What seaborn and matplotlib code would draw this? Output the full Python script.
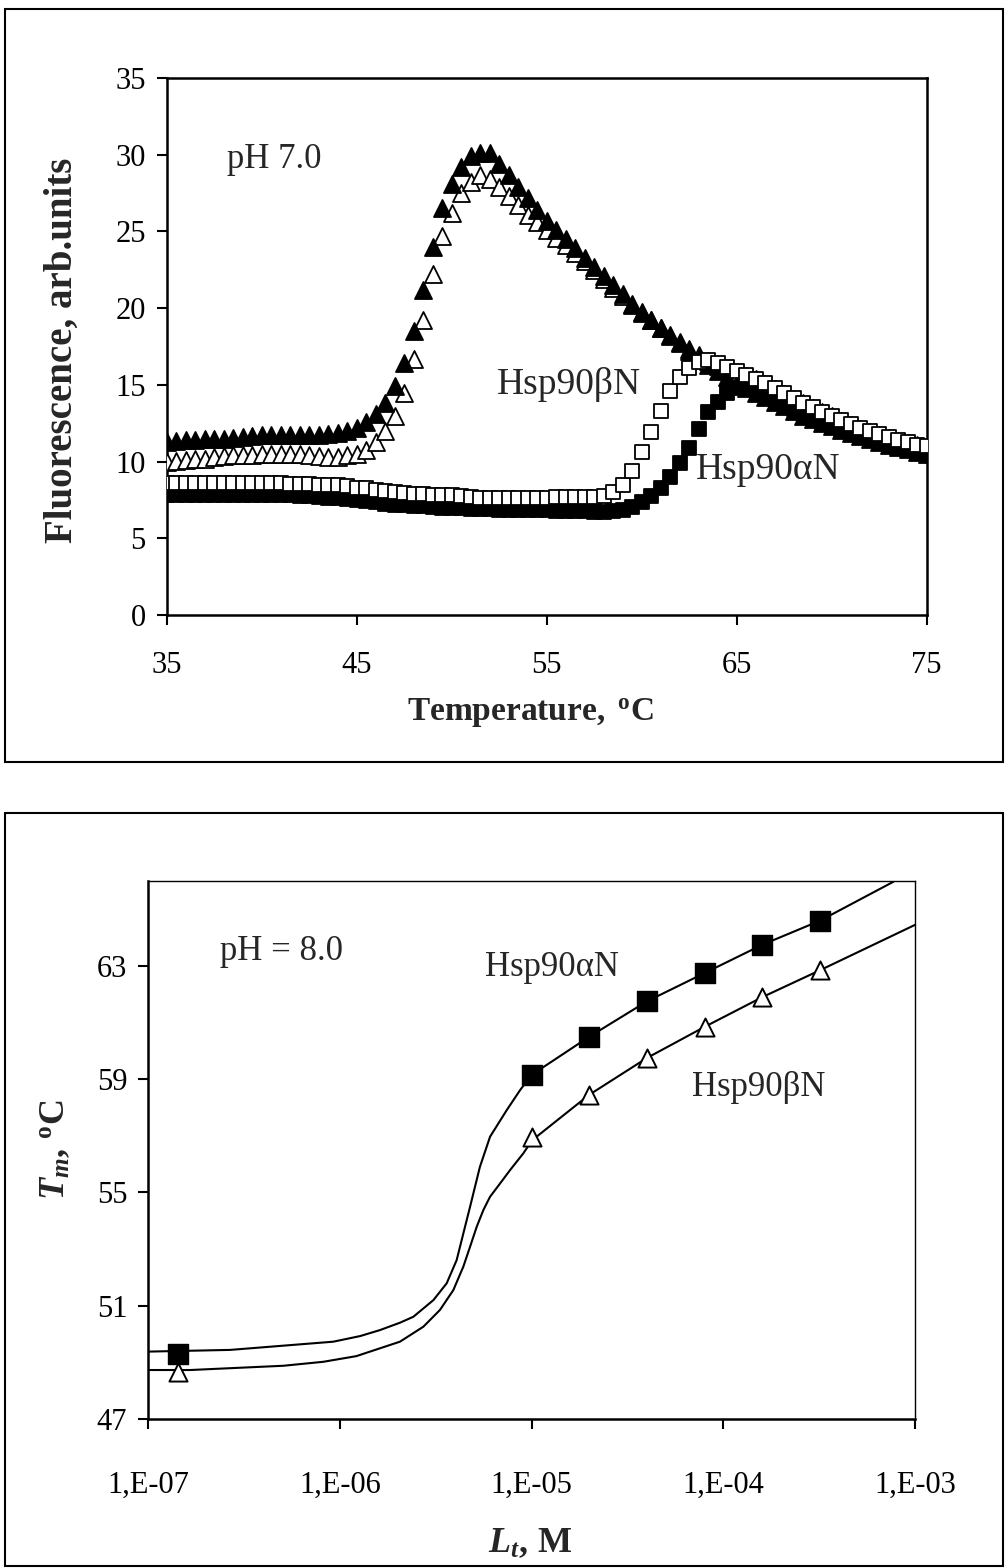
import numpy as np
import pandas as pd
import matplotlib
matplotlib.use("Agg")
import matplotlib.pyplot as plt
import seaborn as sns
from matplotlib.patches import Rectangle
from matplotlib.ticker import FixedLocator, NullLocator, FixedFormatter

# ---------------- data: top panel (fluorescence vs temperature, pH 7.0) ----------------
temperature = [35.0, 35.5, 36.0, 36.5, 37.0, 37.5, 38.0, 38.5, 39.0, 39.5,
               40.0, 40.5, 41.0, 41.5, 42.0, 42.5, 43.0, 43.5, 44.0, 44.5,
               45.0, 45.5, 46.0, 46.5, 47.0, 47.5, 48.0, 48.5, 49.0, 49.5,
               50.0, 50.5, 51.0, 51.5, 52.0, 52.5, 53.0, 53.5, 54.0, 54.5,
               55.0, 55.5, 56.0, 56.5, 57.0, 57.5, 58.0, 58.5, 59.0, 59.5,
               60.0, 60.5, 61.0, 61.5, 62.0, 62.5, 63.0, 63.5, 64.0, 64.5,
               65.0, 65.5, 66.0, 66.5, 67.0, 67.5, 68.0, 68.5, 69.0, 69.5,
               70.0, 70.5, 71.0, 71.5, 72.0, 72.5, 73.0, 73.5, 74.0, 74.5,
               75.0]

filled_triangles = [11.3, 11.35, 11.4, 11.4, 11.45, 11.5, 11.5, 11.55, 11.6, 11.65,
                    11.7, 11.7, 11.7, 11.75, 11.75, 11.75, 11.75, 11.8, 11.85, 12.0,
                    12.2, 12.6, 13.1, 13.8, 14.9, 16.4, 18.5, 21.2, 24.0, 26.5,
                    28.1, 29.2, 29.9, 30.1, 30.1, 29.4, 28.7, 27.9, 27.2, 26.4,
                    25.7, 25.1, 24.5, 23.9, 23.3, 22.7, 22.1, 21.5, 20.9, 20.3,
                    19.75, 19.2, 18.7, 18.2, 17.7, 17.2, 16.75, 16.3, 15.9, 15.5,
                    15.1, 14.8, 14.5, 14.2, 13.9, 13.6, 13.3, 13.0, 12.75, 12.5,
                    12.3, 12.05, 11.85, 11.65, 11.45, 11.25, 11.1, 10.95, 10.8, 10.65,
                    10.5]

open_triangles = [10.0, 10.05, 10.1, 10.15, 10.2, 10.3, 10.35, 10.4, 10.45, 10.45,
                  10.5, 10.5, 10.5, 10.5, 10.5, 10.45, 10.35, 10.3, 10.3, 10.4,
                  10.5, 10.75, 11.3, 12.0, 13.0, 14.5, 16.7, 19.2, 22.2, 24.7,
                  26.2, 27.5, 28.2, 28.7, 28.4, 27.9, 27.3, 26.7, 26.1, 25.6,
                  25.1, 24.6, 24.1, 23.6, 23.1, 22.5, 21.9, 21.3, 20.8, 20.2,
                  19.7, 19.2, 18.7, 18.25, 17.8, 17.35, 16.95, 16.55, 16.2, 16.0,
                  15.8, 15.6, 15.35, 15.05, 14.75, 14.4, 14.1, 13.8, 13.5, 13.2,
                  12.95, 12.65, 12.4, 12.15, 11.95, 11.75, 11.55, 11.35, 11.2, 11.05,
                  10.95]

open_squares = [8.6, 8.6, 8.6, 8.6, 8.6, 8.6, 8.6, 8.6, 8.6, 8.6,
                8.6, 8.6, 8.6, 8.55, 8.55, 8.55, 8.5, 8.45, 8.45, 8.4,
                8.3, 8.25, 8.15, 8.1, 8.0, 7.95, 7.9, 7.9, 7.85, 7.8,
                7.8, 7.75, 7.7, 7.65, 7.65, 7.65, 7.65, 7.65, 7.65, 7.65,
                7.65, 7.7, 7.7, 7.7, 7.7, 7.7, 7.75, 8.0, 8.5, 9.4,
                10.6, 11.9, 13.3, 14.6, 15.5, 16.1, 16.5, 16.6, 16.4, 16.15,
                15.9, 15.65, 15.4, 15.1, 14.8, 14.45, 14.15, 13.85, 13.55, 13.25,
                12.95, 12.7, 12.45, 12.2, 12.0, 11.8, 11.6, 11.4, 11.25, 11.1,
                11.0]

filled_squares = [7.8, 7.8, 7.8, 7.8, 7.8, 7.8, 7.8, 7.8, 7.8, 7.8,
                  7.8, 7.8, 7.8, 7.8, 7.75, 7.75, 7.7, 7.65, 7.6, 7.55,
                  7.5, 7.45, 7.35, 7.25, 7.2, 7.15, 7.1, 7.1, 7.05, 7.0,
                  7.0, 6.95, 6.9, 6.9, 6.9, 6.85, 6.85, 6.85, 6.85, 6.85,
                  6.85, 6.8, 6.8, 6.8, 6.75, 6.7, 6.7, 6.75, 6.85, 7.05,
                  7.35, 7.75, 8.3, 9.0, 9.9, 10.9, 12.1, 13.2, 13.9, 14.45,
                  14.8, 14.9, 14.75, 14.45, 14.15, 13.8, 13.45, 13.15, 12.85, 12.6,
                  12.35, 12.1, 11.9, 11.7, 11.5, 11.3, 11.1, 10.95, 10.75, 10.55,
                  10.4]

# ---------------- data: bottom panel (Tm vs ligand concentration, pH 8.0) ----------------
conc_points = [1.43e-7, 1e-5, 2e-5, 4e-5, 8e-5, 1.6e-4, 3.2e-4]
tm_alpha_points = [49.3, 59.15, 60.5, 61.75, 62.75, 63.75, 64.6]
tm_beta_points = [48.65, 56.95, 58.45, 59.75, 60.85, 61.9, 62.85]

alpha_fit_conc = [1.0e-7, 2.68e-7, 9.25e-7, 1.28e-6, 1.62e-6, 2.06e-6, 2.42e-6, 3.08e-6,
                  3.61e-6, 4.07e-6, 4.41e-6, 4.78e-6, 5.38e-6, 6.08e-6, 7.43e-6, 8.71e-6,
                  1.0e-5, 2.0e-5, 4.0e-5, 8.0e-5, 1.6e-4, 3.2e-4, 7.7e-4]
alpha_fit_tm = [49.38, 49.44, 49.73, 49.93, 50.14, 50.40, 50.61, 51.20,
                51.79, 52.61, 53.55, 54.49, 55.90, 56.97, 57.91, 58.61,
                59.15, 60.50, 61.75, 62.75, 63.75, 64.60, 65.97]

beta_fit_conc = [1.0e-7, 1.66e-7, 5.08e-7, 8.20e-7, 1.22e-6, 2.06e-6, 2.73e-6, 3.33e-6,
                 3.91e-6, 4.41e-6, 4.78e-6, 5.18e-6, 5.61e-6, 6.08e-6, 6.86e-6, 7.73e-6,
                 9.06e-6, 1.01e-5, 2.0e-5, 4.0e-5, 8.0e-5, 1.6e-4, 3.2e-4, 1.0e-3]
beta_fit_tm = [48.73, 48.73, 48.88, 49.02, 49.22, 49.73, 50.26, 50.85,
               51.55, 52.38, 53.08, 53.79, 54.38, 54.85, 55.32, 55.79,
               56.38, 56.85, 58.45, 59.75, 60.85, 61.90, 62.85, 64.45]

x_tick_values = [1e-7, 1e-6, 1e-5, 1e-4, 1e-3]
x_tick_labels = ["1,E-07", "1,E-06", "1,E-05", "1,E-04", "1,E-03"]
y_tick_values = [47, 51, 55, 59, 63]

# ---------------- style ----------------
sns.set_style("ticks")
plt.rcParams["font.family"] = ["Liberation Serif", "DejaVu Serif"]
plt.rcParams["mathtext.fontset"] = "custom"
plt.rcParams["mathtext.rm"] = "Liberation Serif"
plt.rcParams["mathtext.it"] = "Liberation Serif:italic"
plt.rcParams["mathtext.bf"] = "Liberation Serif:bold"
plt.rcParams["mathtext.bfit"] = "Liberation Serif:bold:italic"

W, H = 1008, 1568
fig = plt.figure(figsize=(W / 100, H / 100), dpi=100)
fig.patch.set_facecolor("white")


def fx(px):
    return px / W


def fy(py):
    return 1 - py / H


# outer frames around each panel
fig.add_artist(Rectangle((fx(5), fy(762)), fx(1003) - fx(5), fy(9) - fy(762),
                         transform=fig.transFigure, fill=False, lw=1.5, ec="black"))
fig.add_artist(Rectangle((fx(5), fy(1566)), fx(1003) - fx(5), fy(813) - fy(1566),
                         transform=fig.transFigure, fill=False, lw=1.5, ec="black"))

TICK_FS = 22

# ---------------- top panel ----------------
ax1 = fig.add_axes([fx(166.5), fy(615), fx(926.5) - fx(166.5), fy(78) - fy(615)])
df_top = pd.DataFrame({"T": temperature * 4,
                       "F": open_triangles + filled_triangles + filled_squares + open_squares,
                       "series": (["ot"] * len(temperature) + ["ft"] * len(temperature)
                                  + ["fs"] * len(temperature) + ["os"] * len(temperature))})
styles = {
    "ot": dict(marker="^", facecolor="white", s=150),
    "ft": dict(marker="^", facecolor="black", s=150),
    "fs": dict(marker="s", facecolor="black", s=90),
    "os": dict(marker="s", facecolor="white", s=90),
}
for key in ["ot", "ft", "fs", "os"]:
    st = styles[key]
    sns.scatterplot(data=df_top[df_top["series"] == key], x="T", y="F", ax=ax1,
                    marker=st["marker"], s=st["s"], color=st["facecolor"],
                    edgecolor="black", linewidth=1.3, legend=False, zorder=3)
ax1.set_xlim(35, 75)
ax1.set_ylim(0, 35)
ax1.set_xticks([35, 45, 55, 65, 75])
ax1.set_yticks([0, 5, 10, 15, 20, 25, 30, 35])
ax1.set_xlabel("")
ax1.set_ylabel("")
for sp in ax1.spines.values():
    sp.set_visible(True)
    sp.set_linewidth(1.8)
    sp.set_color("black")
ax1.tick_params(direction="out", length=7, width=1.5, labelsize=TICK_FS, colors="black")
ax1.tick_params(axis="y", pad=8)
ax1.tick_params(axis="x", pad=19)

fig.text(fx(274), fy(159), "pH 7.0", fontsize=25, ha="center", va="center")
fig.text(fx(569), fy(385), "Hsp90βN", fontsize=27, ha="center", va="center")
fig.text(fx(768), fy(470), "Hsp90αN", fontsize=27, ha="center", va="center")
fig.text(fx(530), fy(713), r"$\mathbf{Temperature,\ ^{o}C}$", fontsize=24, ha="center", va="center")
fig.text(fx(62), fy(350), "Fluorescence, arb.units", fontsize=28, fontweight="bold",
         rotation=90, ha="center", va="center")

# ---------------- bottom panel ----------------
ax2 = fig.add_axes([fx(148), fy(1419), fx(915) - fx(148), fy(881) - fy(1419)])
df_a = pd.DataFrame({"c": alpha_fit_conc, "tm": alpha_fit_tm})
df_b = pd.DataFrame({"c": beta_fit_conc, "tm": beta_fit_tm})
sns.lineplot(data=df_a, x="c", y="tm", ax=ax2, color="black", lw=1.5, sort=False, zorder=2)
sns.lineplot(data=df_b, x="c", y="tm", ax=ax2, color="black", lw=1.5, sort=False, zorder=2)
df_pa = pd.DataFrame({"c": conc_points, "tm": tm_alpha_points})
df_pb = pd.DataFrame({"c": conc_points, "tm": tm_beta_points})
sns.scatterplot(data=df_pa, x="c", y="tm", ax=ax2, marker="s", s=190, color="black",
                edgecolor="black", linewidth=1.0, zorder=4, legend=False)
sns.scatterplot(data=df_pb, x="c", y="tm", ax=ax2, marker="^", s=170, color="white",
                edgecolor="black", linewidth=1.4, zorder=4, legend=False)
ax2.set_xscale("log")
ax2.set_xlim(1e-7, 1e-3)
ax2.set_ylim(47, 66)
ax2.xaxis.set_major_locator(FixedLocator(x_tick_values))
ax2.xaxis.set_major_formatter(FixedFormatter(x_tick_labels))
ax2.xaxis.set_minor_locator(NullLocator())
ax2.set_yticks(y_tick_values)
ax2.set_xlabel("")
ax2.set_ylabel("")
for name, sp in ax2.spines.items():
    sp.set_visible(True)
    sp.set_color("black")
    sp.set_linewidth(1.8 if name in ("left", "bottom") else 1.0)
ax2.tick_params(direction="out", length=7, width=1.5, labelsize=TICK_FS, colors="black")
ax2.tick_params(axis="y", pad=8)
ax2.tick_params(axis="x", pad=30)

fig.text(fx(281), fy(952), "pH = 8.0", fontsize=25, ha="center", va="center")
fig.text(fx(552), fy(967), "Hsp90αN", fontsize=25, ha="center", va="center")
fig.text(fx(759), fy(1088), "Hsp90βN", fontsize=25, ha="center", va="center")
fig.text(fx(530), fy(1543), r"$\mathbfit{L}_{\mathbfit{t}}\mathbf{,\,M}$", fontsize=26,
         ha="center", va="center")
fig.text(fx(55), fy(1150), r"$\mathbfit{T}_{\mathbfit{m}}\mathbf{,\,^{o}C}$", fontsize=26,
         rotation=90, ha="center", va="center")

fig.savefig("out.png", dpi=100, facecolor="white")
